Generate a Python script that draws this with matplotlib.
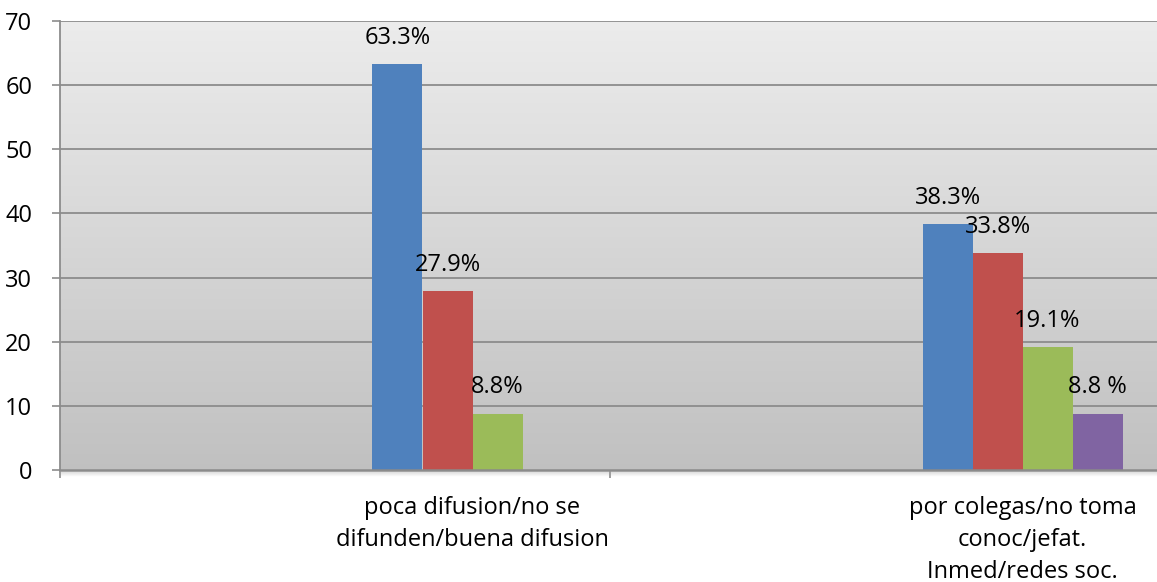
import numpy as np
import matplotlib
matplotlib.use("Agg")
import matplotlib.pyplot as plt
from matplotlib.ticker import FixedLocator

plt.rcParams['font.family'] = ['Open Sans', 'DejaVu Sans']

categories = ["poca difusion/no se\ndifunden/buena difusion",
              "por colegas/no toma\nconoc/jefat.\nInmed/redes soc."]
series_values = [
    [63.3, 38.3],
    [27.9, 33.8],
    [8.8, 19.1],
    [np.nan, 8.8],
]
value_labels = [
    ["63.3%", "38.3%"],
    ["27.9%", "33.8%"],
    ["8.8%", "19.1%"],
    ["", "8.8 %"],
]
colors = ["#4F81BD", "#C0504D", "#9BBB59", "#8064A2"]
y_ticks = [0, 10, 20, 30, 40, 50, 60, 70]

W, H = 1157, 582
FS = 17
fig = plt.figure(figsize=(W / 100, H / 100), dpi=100)
ax = fig.add_axes([60 / W, (H - 470) / H, (W - 60) / W, 449 / H])

# vertical gradient background, light at the top
grad = np.linspace(0.925, 0.755, 256).reshape(-1, 1)
ax.imshow(np.dstack([grad, grad, grad]), extent=[0, 2.5, 0, 70],
          origin='upper', aspect='auto', zorder=0, interpolation='bicubic')
ax.set_xlim(0, (W - 60) / 550)
ax.set_ylim(0, 70)

grid_col = "#8C8C8C"
for y in y_ticks[1:]:
    ax.axhline(y, color=grid_col, lw=1.3, zorder=1)

bar_w = 50 / 550
group_center = 0.75
n = len(series_values)
for i, (vals, labs, c) in enumerate(zip(series_values, value_labels, colors)):
    xs = np.arange(len(categories)) + group_center + (i - (n - 1) / 2) * bar_w
    ax.bar(xs, vals, width=bar_w, color=c, edgecolor='none', zorder=3)
    for x, v, t in zip(xs, vals, labs):
        if t and not np.isnan(v):
            ax.annotate(t, (x, v), xytext=(0, 19), textcoords='offset points',
                        ha='center', va='center', fontsize=FS, color='#000000',
                        zorder=5)

ax.set_yticks(y_ticks)
ax.set_yticklabels([str(v) for v in y_ticks], fontsize=FS)
ax.tick_params(axis='y', length=6, width=1.2, color=grid_col, pad=14)

ax.set_xticks(np.arange(len(categories)) + group_center)
ax.set_xticklabels(categories, fontsize=FS, linespacing=1.42)
ax.tick_params(axis='x', which='major', length=0, pad=19)
ax.xaxis.set_minor_locator(FixedLocator([0, 1, 2]))
ax.tick_params(axis='x', which='minor', length=6, width=1.2, color=grid_col)

for s in ['top', 'right']:
    ax.spines[s].set_visible(False)
ax.spines['left'].set_color(grid_col)
ax.spines['left'].set_linewidth(1.3)
ax.spines['bottom'].set_color("#8A8A8A")
ax.spines['bottom'].set_linewidth(1.8)
ax.spines['bottom'].set_zorder(4)

# soft shadow under the floor line
for k in range(1, 6):
    y = (H - 470 - k) / H
    fig.add_artist(plt.Line2D([60 / W, 1.0], [y, y], color='#A0A0A0',
                              alpha=0.35 * (1 - k / 6), lw=1.0))

fig.savefig("out.png", dpi=100)
